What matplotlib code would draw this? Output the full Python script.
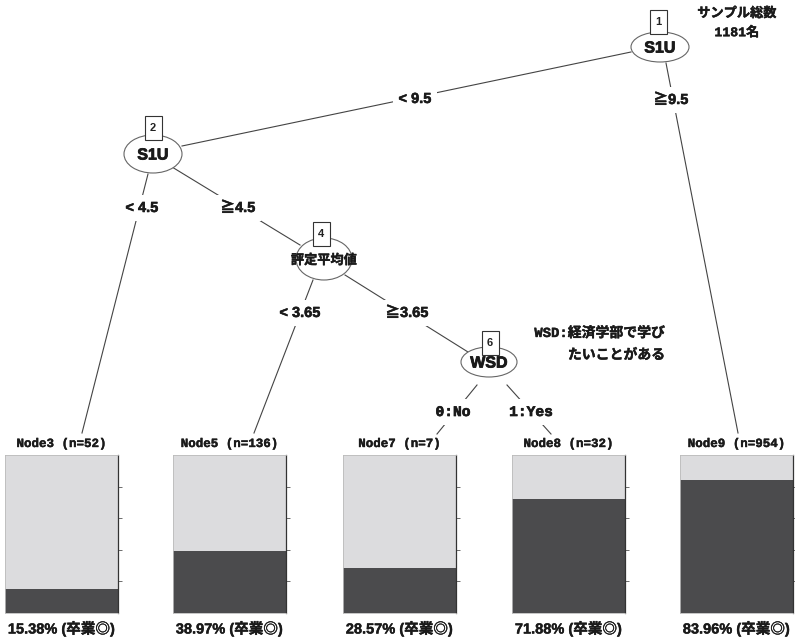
import matplotlib.pyplot as plt
import matplotlib.patheffects as pe
from matplotlib.patches import Ellipse, Rectangle

# ---- data ----
leaf_ids = [3, 5, 7, 8, 9]
leaf_n = [52, 136, 7, 32, 954]
leaf_pct = [15.38, 38.97, 28.57, 71.88, 83.96]   # 卒業◎ share
inner_ids = [1, 2, 4, 6]
inner_vars = ["S1U", "S1U", "評定平均値", "WSD"]
split_labels = ["< 9.5", "≧9.5", "< 4.5", "≧4.5", "< 3.65", "≧3.65", "0:No", "1:Yes"]
total_n = 1181

W, H = 795, 639
SANS = ['Liberation Sans', 'Noto Sans CJK JP', 'DejaVu Sans']
MONO = ['Liberation Mono', 'Noto Sans CJK JP', 'DejaVu Sans']
CJK = ['Noto Sans CJK JP', 'DejaVu Sans']
LIGHT = '#dcdcde'
DARK = '#4b4b4d'
LINE = '#444444'
INK = '#1a1a1a'


def thick(w):
    return [pe.withStroke(linewidth=w, foreground=INK)]


fig = plt.figure(figsize=(W / 100, H / 100), dpi=100)
ax = fig.add_axes([0, 0, 1, 1])
ax.set_xlim(0, W)
ax.set_ylim(H, 0)
ax.axis('off')

# inner node layout (pixel coords): centre, ellipse size, id box centre
inner_pos = [(660, 47, 58, 30), (153, 154, 58, 38), (324, 259, 56, 42), (489, 362, 56, 30)]
box_pos = [(658, 22), (153, 128), (321, 234), (490, 343)]

# edges: start, end, label position
edges = [
    ((631, 52), (182, 146), (415, 99)),
    ((666, 63), (738, 433), (671, 100)),
    ((148, 174), (82, 433), (142, 208)),
    ((172, 167), (300, 245), (238, 208)),
    ((313, 280), (254, 433), (300, 313)),
    ((345, 275), (468, 352), (407, 313)),
    ((477, 385), (437, 434), (453, 412)),
    ((507, 385), (551, 434), (531, 412)),
]
for i, ((x0, y0), (x1, y1), (lx, ly)) in enumerate(edges):
    ax.plot([x0, x1], [y0, y1], color=LINE, lw=0.8, zorder=1)
    lab = split_labels[i]
    fam = MONO if ':' in lab else SANS
    t = ax.text(lx, ly, lab, ha='center', va='center', fontsize=10.5, fontweight='bold',
                family=fam, color=INK, zorder=3,
                bbox=dict(facecolor='white', edgecolor='none', pad=4))
    t.set_path_effects(thick(0.5 if ':' in lab else 0.4))

for i, (cx, cy, ew, eh) in enumerate(inner_pos):
    ax.add_patch(Ellipse((cx, cy), ew, eh, facecolor='white', edgecolor='#666666',
                         lw=0.8, zorder=2))
    bx, by = box_pos[i]
    ax.add_patch(Rectangle((bx - 8.5, by - 12), 17, 24, facecolor='white',
                           edgecolor='#333333', lw=0.8, zorder=4))
    ax.text(bx, by, str(inner_ids[i]), ha='center', va='center', fontsize=8,
            fontweight='bold', family=SANS, color='#222222', zorder=5)
    var = inner_vars[i]
    if len(var) > 3:
        t = ax.text(cx, cy + 1, var, ha='center', va='center', fontsize=9.5,
                    fontweight='bold', family=CJK, color=INK, zorder=3)
        t.set_path_effects(thick(0.3))
    else:
        t = ax.text(cx, cy + 1, var, ha='center', va='center', fontsize=11.5,
                    fontweight='bold', family=SANS, color=INK, zorder=3)
        t.set_path_effects(thick(0.6))

t = ax.text(737, 13, "サンプル総数", ha='center', va='center', fontsize=9.5,
            fontweight='bold', family=CJK, color=INK)
t.set_path_effects(thick(0.3))
t = ax.text(737, 33, f"{total_n}名", ha='center', va='center', fontsize=9.5,
            fontweight='bold', family=MONO, color=INK)
t.set_path_effects(thick(0.3))
t = ax.text(665, 333, "WSD:経済学部で学び", ha='right', va='center', fontsize=10,
            fontweight='bold', family=MONO, color=INK)
t.set_path_effects(thick(0.3))
t = ax.text(665, 355, "たいことがある", ha='right', va='center', fontsize=10,
            fontweight='bold', family=CJK, color=INK)
t.set_path_effects(thick(0.3))

# leaf bar panels
leaf_left = [5, 173, 343, 512, 680]
bw, top, bot = 113, 455, 613
for i, x0 in enumerate(leaf_left):
    bax = fig.add_axes([x0 / W, 1 - bot / H, bw / W, (bot - top) / H])
    p = leaf_pct[i] / 100
    bax.bar([0], [p], width=1, color=DARK)
    bax.bar([0], [1 - p], bottom=p, width=1, color=LIGHT)
    bax.set_xlim(-0.5, 0.5)
    bax.set_ylim(0, 1)
    bax.set_xticks([])
    bax.yaxis.tick_right()
    bax.set_yticks([0.2, 0.4, 0.6, 0.8])
    bax.tick_params(axis='y', direction='out', length=3, width=0.6, labelright=False,
                    color='#555555')
    for s in ['left', 'top', 'bottom']:
        bax.spines[s].set_color('#bbbbbb')
        bax.spines[s].set_linewidth(0.6)
    bax.spines['right'].set_color('#333333')
    bax.spines['right'].set_linewidth(0.9)
    cx = x0 + bw / 2
    t1 = ax.text(cx, 444, f"Node{leaf_ids[i]} (n={leaf_n[i]})", ha='center', va='center',
                 fontsize=9, fontweight='bold', family=MONO, color=INK)
    t1.set_path_effects(thick(0.3))
    t2 = ax.text(cx, 629, f"{leaf_pct[i]:.2f}% (卒業◎)", ha='center', va='center',
                 fontsize=10.5, fontweight='bold', family=SANS, color=INK)
    t2.set_path_effects(thick(0.3))

fig.savefig('out.png', dpi=100)
